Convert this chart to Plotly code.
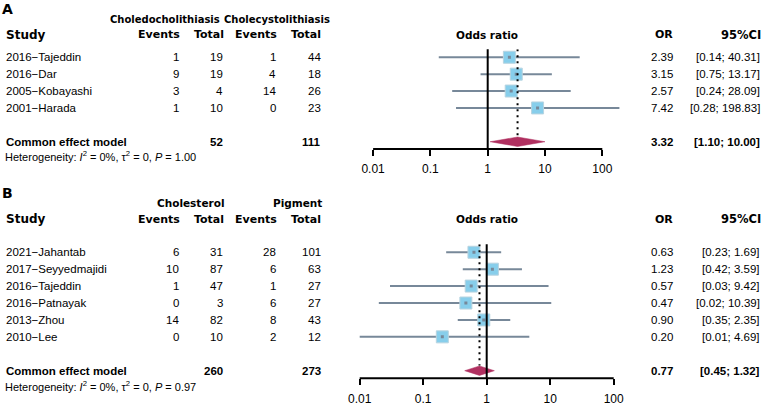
import plotly.graph_objs as go

# ---- panel A data: choledocholithiasis vs cholecystolithiasis
studies_a = ["2016−Tajeddin", "2016−Dar", "2005−Kobayashi", "2001−Harada"]
ev1_a = [1, 9, 3, 1]
tot1_a = [19, 19, 4, 10]
ev2_a = [1, 4, 14, 0]
tot2_a = [44, 18, 26, 23]
or_a = [2.39, 3.15, 2.57, 7.42]
lo_a = [0.14, 0.75, 0.24, 0.28]
hi_a = [40.31, 13.17, 28.09, 198.83]
pooled_a = [3.32, 1.10, 10.00]
sum_a = [52, 111]
p_a = "1.00"

# ---- panel B data: cholesterol vs pigment
studies_b = ["2021−Jahantab", "2017−Seyyedmajidi", "2016−Tajeddin",
             "2016−Patnayak", "2013−Zhou", "2010−Lee"]
ev1_b = [6, 10, 1, 0, 14, 0]
tot1_b = [31, 87, 47, 3, 82, 10]
ev2_b = [28, 6, 1, 6, 8, 2]
tot2_b = [101, 63, 27, 27, 43, 12]
or_b = [0.63, 1.23, 0.57, 0.47, 0.90, 0.20]
lo_b = [0.23, 0.42, 0.03, 0.02, 0.35, 0.01]
hi_b = [1.69, 3.59, 9.42, 10.39, 2.35, 4.69]
pooled_b = [0.77, 0.45, 1.32]
sum_b = [260, 273]
p_b = "0.97"

tick_vals = [0.01, 0.1, 1, 10, 100]
tick_text = ["0.01", "0.1", "1", "10", "100"]

W, H = 768, 405
HEAD = "DejaVu Sans"
BODY = "Liberation Sans, Arial"
SQ = "#87CEEB"
CI = "#778899"
DIA = "#B03060"

fig = go.Figure()
ann = []


def px(x):
    return x / W


def py(y):
    return 1 - y / H


def txt(x, y, s, xa="left", yref="paper", font=BODY, size=11.5, bold=False):
    if bold:
        s = "<b>" + s + "</b>"
    ann.append(dict(x=px(x), y=py(y) if yref == "paper" else y, xref="paper", yref=yref,
                    text=s, showarrow=False, xanchor=xa, yanchor="middle",
                    font=dict(family=font, size=size, color="black")))


def panel(xa, ya, studies, ev1, tot1, ev2, tot2, ors, lo, hi, pooled, sums, crow):
    rows = list(range(len(studies)))
    # confidence intervals
    for r, l, h in zip(rows, lo, hi):
        fig.add_trace(go.Scatter(x=[l, h], y=[r, r], mode="lines", xaxis=xa, yaxis=ya,
                                 line=dict(color=CI, width=2), showlegend=False, hoverinfo="skip"))
    # study squares
    fig.add_trace(go.Scatter(x=ors, y=rows, mode="markers", xaxis=xa, yaxis=ya,
                             marker=dict(symbol="square", size=12, color=SQ,
                                         line=dict(color="#B8D4E0", width=1)),
                             showlegend=False))
    fig.add_trace(go.Scatter(x=ors, y=rows, mode="markers", xaxis=xa, yaxis=ya,
                             marker=dict(symbol="square", size=3, color=CI),
                             showlegend=False, hoverinfo="skip"))
    # pooled diamond
    est, l, h = pooled
    fig.add_trace(go.Scatter(x=[l, est, h, est, l], y=[crow, crow - 0.28, crow, crow + 0.28, crow],
                             mode="lines", fill="toself", fillcolor=DIA, xaxis=xa, yaxis=ya,
                             line=dict(color=DIA, width=0.5), showlegend=False))
    xr = "x" if xa == "x" else "x2"
    yr = "y" if ya == "y" else "y2"
    # line of no effect, pooled estimate and axis line
    fig.add_shape(type="line", xref=xr, yref=yr + " domain", x0=1, x1=1, y0=0, y1=1,
                  line=dict(color="black", width=2))
    fig.add_shape(type="line", xref=xr, yref=yr, x0=est, x1=est, y0=-0.47, y1=crow - 0.3,
                  line=dict(color="black", width=2, dash="2px,4px"))
    fig.add_shape(type="line", xref=xr, yref=yr + " domain", x0=0.01, x1=100, y0=0, y1=0,
                  line=dict(color="black", width=2))
    # table columns
    for r in rows:
        txt(4, r, studies[r], yref=yr)
        txt(181, r, str(ev1[r]), "right", yr)
        txt(224.5, r, str(tot1[r]), "right", yr)
        txt(278, r, str(ev2[r]), "right", yr)
        txt(322.5, r, str(tot2[r]), "right", yr)
        txt(675, r, "%.2f" % ors[r], "right", yr)
        txt(762, r, "[%.2f; %.2f]" % (lo[r], hi[r]), "right", yr)
    txt(4, crow, "Common effect model", yref=yr, bold=True)
    txt(224.5, crow, str(sums[0]), "right", yr, bold=True)
    txt(322.5, crow, str(sums[1]), "right", yr, bold=True)
    txt(675, crow, "%.2f" % est, "right", yr, bold=True)
    txt(762, crow, "[%.2f; %.2f]" % (l, h), "right", yr, bold=True)


def headers(y, cols):
    for x, s, a, size in cols:
        txt(x, y, s, a, font=HEAD, size=size, bold=True)


panel("x", "y", studies_a, ev1_a, tot1_a, ev2_a, tot2_a, or_a, lo_a, hi_a, pooled_a, sum_a, 5)
panel("x2", "y2", studies_b, ev1_b, tot1_b, ev2_b, tot2_b, or_b, lo_b, hi_b, pooled_b, sum_b, 7)

het = "Heterogeneity: <i>I</i><sup>2</sup> = 0%%, τ<sup>2</sup> = 0, <i>P</i> = %s"
cols = [(4, "Study", "left", 12), (182, "Events", "right", 11), (226, "Total", "right", 11),
        (279, "Events", "right", 11), (323, "Total", "right", 11),
        (486.7, "Odds ratio", "center", 10.5), (675, "OR", "right", 11),
        (763, "95%CI", "right", 11.5)]

# panel A headers
txt(0, 9, "A", font=HEAD, size=14, bold=True)
txt(165, 19, "Choledocholithiasis", "center", font=HEAD, size=10, bold=True)
txt(277, 19, "Cholecystolithiasis", "center", font=HEAD, size=10, bold=True)
headers(35, cols)
txt(3, 156, het % p_a, size=11)

# panel B headers
txt(0, 193, "B", font=HEAD, size=14, bold=True)
txt(191, 203, "Cholesterol", "center", font=HEAD, size=10.5, bold=True)
txt(324, 203, "Pigment", "right", font=HEAD, size=10.5, bold=True)
headers(219, cols)
txt(3, 386, het % p_b, size=11)

# axes: decade width and centre (x = 1) in pixels
dec_a, c_a = 57.3, 487.7
dec_b, c_b = 63.5, 486.7
axis_common = dict(type="log", range=[-2.5, 2.5], tickvals=tick_vals, ticktext=tick_text,
                   ticks="outside", ticklen=6, tickwidth=2, tickcolor="black",
                   ticklabelstandoff=3,
                   showgrid=False, zeroline=False, showline=False,
                   tickfont=dict(family=BODY, size=12, color="black"))

fig.update_layout(
    width=W, height=H,
    margin=dict(l=0, r=0, t=0, b=0),
    plot_bgcolor="white", paper_bgcolor="white",
    xaxis=dict(domain=[px(c_a - 2.5 * dec_a), px(c_a + 2.5 * dec_a)], anchor="y", **axis_common),
    xaxis2=dict(domain=[px(c_b - 2.5 * dec_b), px(c_b + 2.5 * dec_b)], anchor="y2", **axis_common),
    yaxis=dict(domain=[py(149), py(49.3)], range=[5.43, -0.47], visible=False),
    yaxis2=dict(domain=[py(378.3), py(244.3)], range=[7.45, -0.47], visible=False),
    annotations=ann,
)

# drop the default page margin so the figure sits at the window corner
fig.write_html("out.html", config={"displayModeBar": False},
               post_script="document.body.style.margin='0';")
